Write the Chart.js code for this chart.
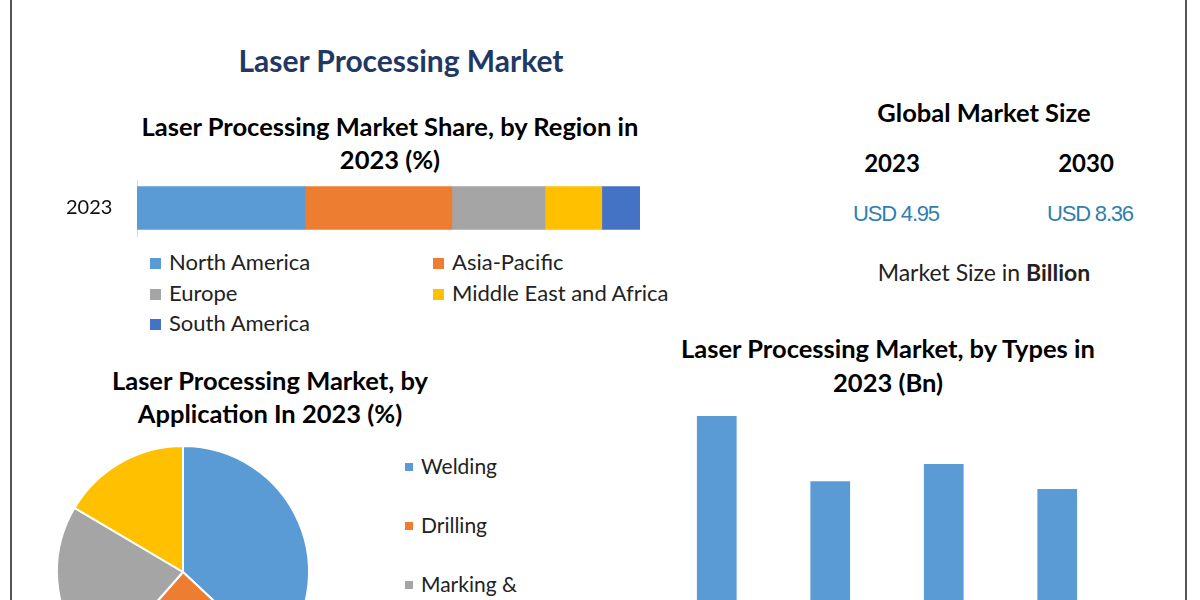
<!DOCTYPE html>
<html>
<head>
<meta charset="utf-8">
<script src="https://cdn.jsdelivr.net/npm/chart.js@4.4.0/dist/chart.umd.min.js"></script>
<style>
  html, body { margin: 0; padding: 0; }
  body { width: 1200px; height: 600px; overflow: hidden; position: relative; background: #fff; font-family: Lato, "Open Sans", sans-serif; color: #000; }
  .txt { position: absolute; width: 600px; text-align: center; white-space: nowrap; }
  .bold { font-weight: bold; }
  .frame { position: absolute; top: 0; width: 2px; height: 600px; background: #555; }
  .legend-row { position: absolute; white-space: nowrap; font-size: 22px; color: #222; }
  .legend-row span.box { display: inline-block; width: 11px; height: 11px; margin-right: 8px; vertical-align: 1px; }
  .pie-leg { position: absolute; white-space: nowrap; font-size: 21px; color: #222; }
  .pie-leg span.box { display: inline-block; width: 8px; height: 8px; margin-right: 8px; vertical-align: 3px; }
  canvas { position: absolute; }
</style>
</head>
<body>

<div class="frame" style="left:10px"></div>
<div class="frame" style="left:1185px"></div>

<div class="txt bold" style="left:101px; top:42px; font-size:30px; line-height:36px; color:#1f3864;">Laser Processing Market</div>

<div class="txt bold" style="left:90px; top:110px; font-size:25.5px; line-height:33px;">Laser Processing Market Share, by Region in<br>2023 (%)</div>

<div class="txt bold" style="left:684px; top:97px; font-size:25.5px; line-height:30px;">Global Market Size</div>
<div id="sizeYears"></div>
<div class="txt" style="left:684px; top:257px; font-size:23px; line-height:30px; color:#222;">Market Size in <b>Billion</b></div>

<div class="txt bold" style="left:-30px; top:364px; font-size:25.5px; line-height:33px;">Laser Processing Market, by<br>Application In 2023 (%)</div>

<div class="txt bold" style="left:588px; top:331px; font-size:25.5px; line-height:34px;">Laser Processing Market, by Types in<br>2023 (Bn)</div>

<canvas id="regionChart" width="594" height="80" style="left:66px; top:168px;"></canvas>
<div id="regionLegend"></div>

<canvas id="appChart" width="264" height="264" style="left:51px; top:440px;"></canvas>
<div id="appLegend"></div>

<canvas id="typeChart" width="454" height="307" style="left:660px; top:393px;"></canvas>

<script>
// share by region, 2023 (%)
const regionYear = ['2023'];
const regionLabels = ['North America', 'Asia-Pacific', 'Europe', 'Middle East and Africa', 'South America'];
const regionShares = [33.4, 29.2, 18.5, 11.3, 7.6];
const regionColors = ['#5b9bd5', '#ed7d31', '#a5a5a5', '#ffc000', '#4472c4'];

// by application, 2023 (%)
const appLabels = ['Welding', 'Drilling', 'Marking & Engraving', 'Cutting'];
const appShares = [37, 24.5, 22, 16.5];
const appColors = ['#5b9bd5', '#ed7d31', '#a5a5a5', '#ffc000'];

// by types, 2023 (Bn)
const typeLabels = ['Fiber Laser', 'CO2 Laser', 'Solid-State Laser', 'Others'];
const typeValues = [1.48, 1.14, 1.23, 1.10];

// global market size (USD Bn)
const sizeYears = ['2023', '2030'];
const sizeValues = [4.95, 8.36];

// global market size text block
const sizeCenters = [892, 1086];
let sizeHtml = '';
sizeYears.forEach((yr, i) => {
    const left = sizeCenters[i] - 300;
    sizeHtml += `<div class="txt bold" style="left:${left}px; top:148px; font-size:24px; line-height:30px;">${yr}</div>`;
    sizeHtml += `<div class="txt" style="left:${left + 4}px; top:200px; font-size:22px; line-height:28px; letter-spacing:-1.2px; color:#2f7fb0; font-family:'Liberation Sans', Arial, sans-serif;">USD ${sizeValues[i].toFixed(2)}</div>`;
});
document.getElementById('sizeYears').innerHTML = sizeHtml;

// region legend, two aligned columns
const legCols = [150, 433];
const legRows = [249, 280, 310];
let legHtml = '';
regionLabels.forEach((lab, i) => {
    const col = i % 2, row = Math.floor(i / 2);
    legHtml += `<div class="legend-row" style="left:${legCols[col]}px; top:${legRows[row]}px; line-height:26px;"><span class="box" style="background:${regionColors[i]}"></span>${lab}</div>`;
});
document.getElementById('regionLegend').innerHTML = legHtml;

// application legend
let appHtml = '';
appLabels.forEach((lab, i) => {
    const txt = lab.replace(' Engraving', '<br><span style="margin-left:16px">Engraving</span>');
    appHtml += `<div class="pie-leg" style="left:405px; top:${453 + i * 59}px; line-height:26px;"><span class="box" style="background:${appColors[i]}"></span>${txt}</div>`;
});
document.getElementById('appLegend').innerHTML = appHtml;

Chart.defaults.font.family = 'Lato, "Open Sans", sans-serif';
Chart.defaults.animation = false;

new Chart(document.getElementById('regionChart'), {
    type: 'bar',
    data: {
        labels: regionYear,
        datasets: regionLabels.map((lab, i) => ({
            label: lab,
            data: [regionShares[i]],
            backgroundColor: regionColors[i],
            borderWidth: 0,
            barThickness: 43
        }))
    },
    options: {
        indexAxis: 'y',
        responsive: false,
        layout: { padding: { right: 20 } },
        plugins: { legend: { display: false }, tooltip: { enabled: false } },
        scales: {
            x: { stacked: true, display: false, min: 0, max: 100 },
            y: {
                stacked: true,
                grid: { display: false, drawTicks: false },
                border: { display: true, color: '#d9d9d9', width: 1 },
                ticks: { color: '#111', font: { size: 20 }, padding: 0, crossAlign: 'far' },
                afterFit: (scale) => { scale.width = 71; }
            }
        }
    }
});

new Chart(document.getElementById('appChart'), {
    type: 'pie',
    data: {
        labels: appLabels,
        datasets: [{
            data: appShares,
            backgroundColor: appColors,
            borderColor: '#fff',
            borderWidth: 2
        }]
    },
    options: {
        responsive: false,
        layout: { padding: 5 },
        plugins: { legend: { display: false }, tooltip: { enabled: false } }
    }
});

new Chart(document.getElementById('typeChart'), {
    type: 'bar',
    data: {
        labels: typeLabels,
        datasets: [{
            data: typeValues,
            backgroundColor: '#5b9bd5',
            borderWidth: 0,
            barPercentage: 0.35,
            categoryPercentage: 1
        }]
    },
    options: {
        responsive: false,
        plugins: { legend: { display: false }, tooltip: { enabled: false } },
        scales: {
            x: { display: false },
            y: { display: false, min: 0, max: 1.6 }
        }
    }
});
</script>
</body>
</html>
